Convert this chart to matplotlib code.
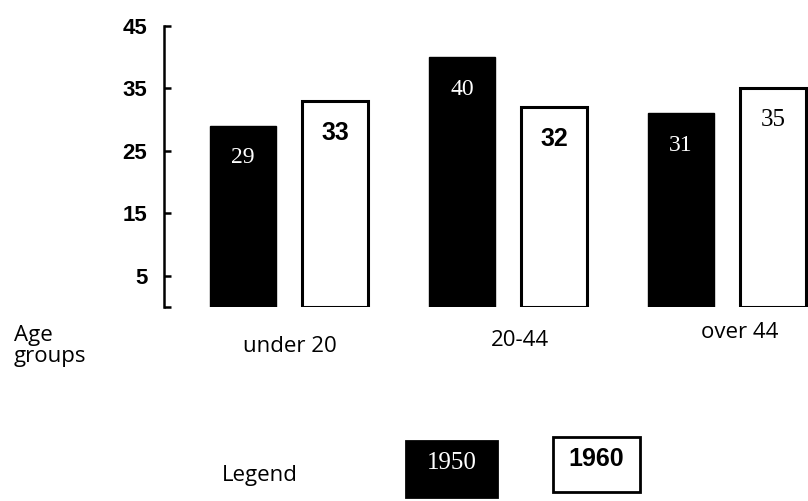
import matplotlib
matplotlib.use("Agg")
import matplotlib.pyplot as plt
from matplotlib.patches import Rectangle
import numpy as np

groups = ["under 20", "20-44", "over 44"]
v1950 = [29, 40, 31]
v1960 = [33, 32, 35]
yticks = [5, 15, 25, 35, 45]
years = ["1950", "1960"]

fig = plt.figure(figsize=(8.08, 5.01), dpi=100)
W, H = 808, 501

# axes placed so spine sits at x=164px, y=0 at 307px, y=45 at 26px
ax = fig.add_axes([164 / W, (H - 307) / H, (W - 164) / W, 281 / H])
ax.set_xlim(-0.571, 2.37)
ax.set_ylim(0, 45)

x = np.arange(len(groups))
w = 0.30
off = 0.21
b1 = ax.bar(x - off, v1950, w, color="black", edgecolor="black", linewidth=1)
b2 = ax.bar(x + off, v1960, w, color="white", edgecolor="black", linewidth=2.2)

for rect, v in zip(b1, v1950):
    ax.annotate(str(v), (rect.get_x() + rect.get_width() / 2, rect.get_height()),
                xytext=(0, -32), textcoords="offset pixels", ha="center", va="center",
                color="white", fontsize=17, family="Liberation Serif")
for rect, v in zip(b2, v1960):
    fam = "Liberation Serif" if v == 35 else "Liberation Sans"
    ax.annotate(str(v), (rect.get_x() + rect.get_width() / 2, rect.get_height()),
                xytext=(0, -32), textcoords="offset pixels", ha="center", va="center",
                color="black", fontsize=18, family=fam,
                fontweight="normal" if v == 35 else "bold")

for s in ["top", "right", "bottom"]:
    ax.spines[s].set_visible(False)
ax.spines["left"].set_linewidth(1.8)
ax.set_xticks([])
ax.set_yticks(yticks)
ax.set_yticks([0], minor=True)
ax.tick_params(axis="y", which="both", direction="in", length=5, width=1.8, pad=12)
ax.set_yticklabels([str(t) for t in yticks], fontsize=16, fontweight="bold",
                   family="Liberation Sans")

# category labels and axis title
for xx, (lbl, ypx) in zip([290, 520, 740], zip(groups, [347, 340, 333])):
    fig.text(xx / W, 1 - ypx / H, lbl, ha="center", va="center", fontsize=16,
             family="Open Sans")
fig.text(14 / W, 1 - 346 / H, "Age\ngroups", ha="left", va="center", fontsize=16,
         family="Open Sans", linespacing=1.05)

# legend
fig.text(260 / W, 1 - 476 / H, "Legend", ha="center", va="center", fontsize=16,
         family="Open Sans")
boxes = [(406, 441, 91, 56, "black", "white", "Liberation Serif", "normal"),
         (553, 437, 87, 55, "white", "black", "Liberation Sans", "bold")]
for (bx, by, bw, bh, fc, tc, fam, fw), yr in zip(boxes, years):
    fig.add_artist(Rectangle((bx / W, 1 - (by + bh) / H), bw / W, bh / H,
                             transform=fig.transFigure, facecolor=fc,
                             edgecolor="black", linewidth=2))
    fig.text((bx + bw / 2) / W, 1 - (by + bh / 2 - 6) / H, yr, ha="center",
             va="center", color=tc, fontsize=18, family=fam, fontweight=fw)

fig.savefig("out.png", dpi=100)
